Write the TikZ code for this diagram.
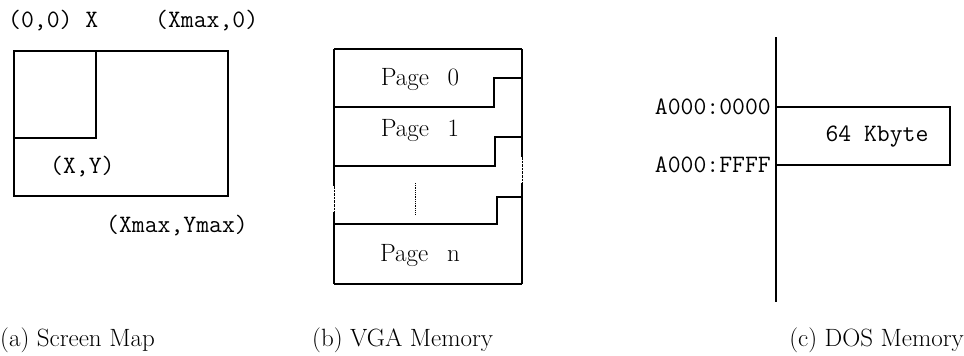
\documentclass[tikz,border=0pt]{standalone}
\usepackage{amsmath}
\usepackage{tikz}
\usetikzlibrary{positioning}

\tikzset{
	lbl/.style={inner sep=0pt, font=\ttfamily\fontsize{25}{25}\selectfont},
	pg/.style={inner sep=0pt, font=\fontsize{25}{25}\selectfont},
	captxt/.style={inner sep=0pt, font=\fontsize{25}{25}\selectfont},
	wall/.style={line width=1.5pt},
	thickwall/.style={line width=2.6pt}
}

\begin{document}
\begin{tikzpicture}[x=1pt,y=-1pt]
	\useasboundingbox (0,0) rectangle (964,356);
	
	% (a) screen
	\coordinate (s0) at (14,51);
	\coordinate (s1) at (228,196);
	\coordinate (xy) at (96,138);
	\draw[wall] (s0) rectangle (s1);
	\draw[wall] (s0) rectangle (xy);
	\node[lbl, anchor=west] (org) at (8,21) {(0,0) X};
	\node[lbl, anchor=west] (xmax) at (155,21) {(Xmax,0)};
	\node[lbl, anchor=west] (pt) at (50,167) {(X,Y)};
	\node[lbl, anchor=west] (end) at (106,226) {(Xmax,Ymax)};
	
	% (b) vga pages
	\coordinate (v0) at (334,49);
	\coordinate (v1) at (522,284);
	\draw[thickwall] (v0) -- (v0 -| v1);
	\draw[thickwall] (v0 |- v1) -- (v1);
	\draw[thickwall] (v0) -- (334,186);
	\draw[thickwall, densely dotted, line width=0.8pt] (334,186) -- (334,212);
	\draw[thickwall] (334,212) -- (v0 |- v1);
	\draw[thickwall] (v0 -| v1) -- (522,157);
	\draw[thickwall, densely dotted, line width=0.8pt] (522,157) -- (522,183);
	\draw[thickwall] (522,183) -- (v1);
	\foreach \b/\t/\n in {107/78/494,166/137/495,224/197/497}
		\draw[thickwall] (334,\b) -| (\n,\t) -- (522,\t);
	\draw[densely dotted, line width=0.8pt] (415,183) -- (415,215);
	\node[pg] (p0) at (420,80) {Page\hspace{0.75em}0};
	\node[pg] (p1) at (420,131) {Page\hspace{0.75em}1};
	\node[pg] (pn) at (420,256) {Page\hspace{0.75em}n};
	
	% (c) dos memory
	\coordinate (d0) at (776,37);
	\coordinate (d1) at (776,302);
	\draw[wall] (d0) -- (d1);
	\draw[wall] (776,107) -- (950,107) -- (950,165) -- (776,165);
	\node[lbl, anchor=east] (lo) at (771,107) {A000:0000};
	\node[lbl, anchor=east] (hi) at (771,165) {A000:FFFF};
	\node[lbl] (kb) at (877,137) {64 Kbyte};
	
	\node[captxt, anchor=west] (ca) at (0,340) {(a) Screen Map};
	\node[captxt, anchor=west] (cb) at (312,340) {(b) VGA Memory};
	\node[captxt, anchor=east] (cc) at (964,340) {(c) DOS Memory};
	
\end{tikzpicture}
\end{document}
